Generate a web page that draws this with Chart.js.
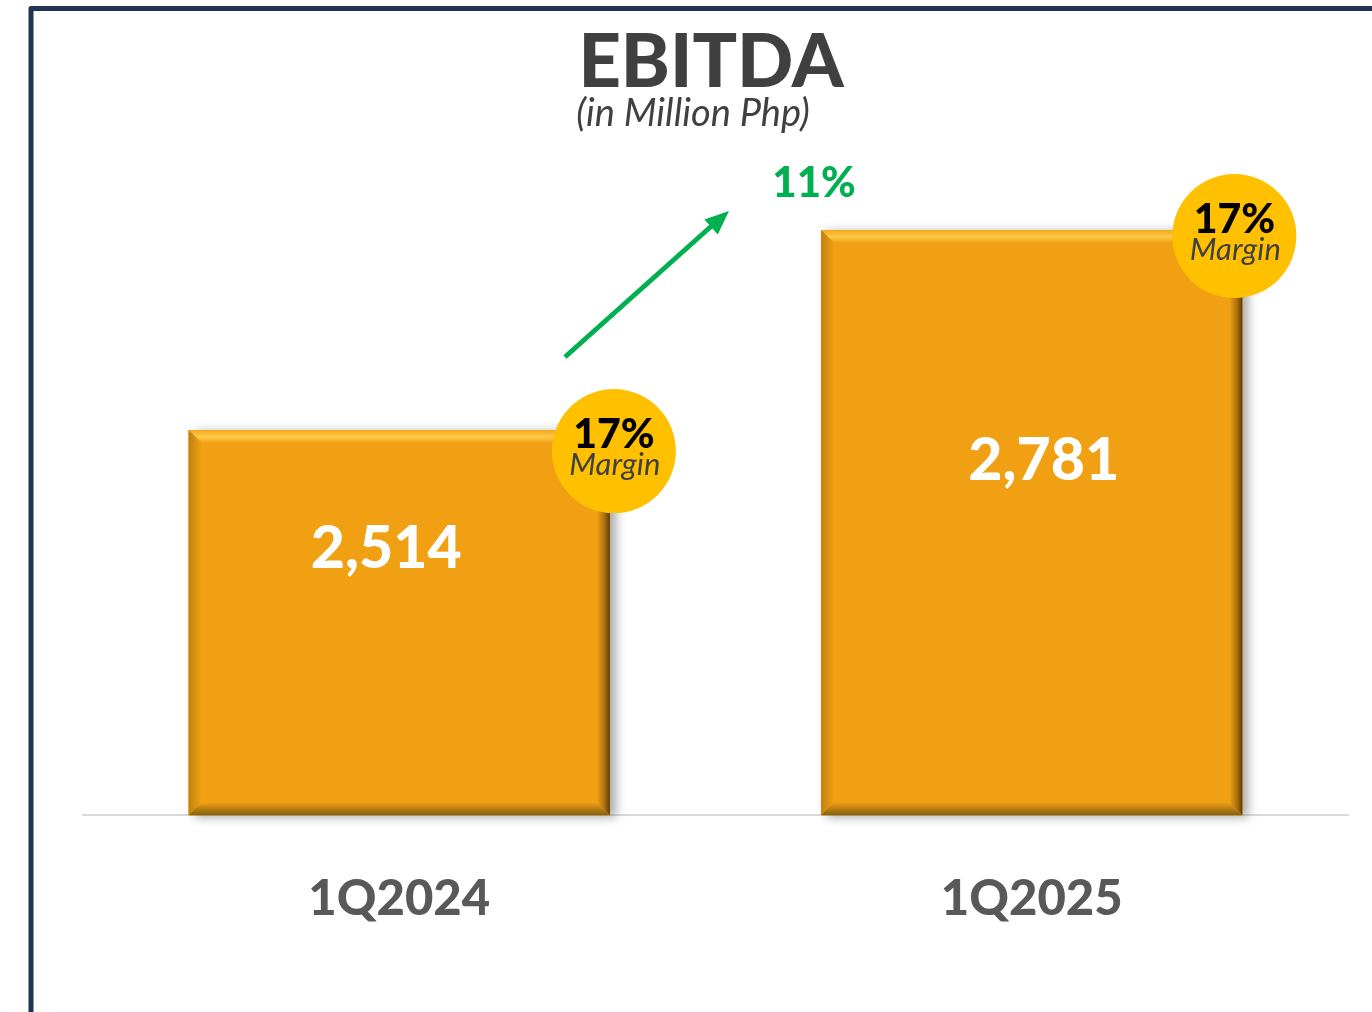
<!DOCTYPE html>
<html>
<head>
<meta charset="utf-8">
<title>EBITDA</title>
<script src="https://cdn.jsdelivr.net/npm/chart.js@4.4.1/dist/chart.umd.min.js"></script>
<style>
  html, body { margin: 0; padding: 0; background: #fff; }
  #wrap { width: 1372px; height: 1012px; position: relative; }
</style>
</head>
<body>
<div id="wrap"><canvas id="ebitdaChart"></canvas></div>
<script>
// data
const quarters = ["1Q2024", "1Q2025"];
const ebitda = [2514, 2781];
const margins = ["17%", "17%"];
const growthText = "11%";
const chartTitle = "EBITDA";
const chartSubtitle = "(in Million Php)";
const axisMin = 2000;
const axisMax = 3000;

const FONT = "Lato, 'Open Sans', sans-serif";
const BAR_COLOR = "#F0A012";
const GREEN = "#00B050";

// where the labels / margin badges sit relative to each bar
const valueShift = [[-13, 119], [12, 231]];
const badgeShift = [[4, 21], [-8, 6]];

const barPolygon = (ctx, pts, fill) => {
  ctx.beginPath();
  ctx.moveTo(pts[0][0], pts[0][1]);
  for (let i = 1; i < pts.length; i++) ctx.lineTo(pts[i][0], pts[i][1]);
  ctx.closePath();
  ctx.fillStyle = fill;
  ctx.fill();
};

const bevelBars = {
  id: "bevelBars",
  beforeDatasetsDraw(chart) {
    const ctx = chart.ctx;
    chart.getDatasetMeta(0).data.forEach(bar => {
      const { x, y, base, width } = bar.getProps(["x", "y", "base", "width"], true);
      ctx.save();
      ctx.shadowColor = "rgba(0,0,0,0.35)";
      ctx.shadowBlur = 10;
      ctx.shadowOffsetX = 6;
      ctx.shadowOffsetY = 2;
      ctx.fillStyle = BAR_COLOR;
      ctx.fillRect(x - width / 2, y, width, base - y);
      ctx.restore();
    });
  },
  afterDatasetsDraw(chart) {
    const ctx = chart.ctx;
    const b = 13;
    chart.getDatasetMeta(0).data.forEach((bar, i) => {
      const { x, y, base, width } = bar.getProps(["x", "y", "base", "width"], true);
      const l = x - width / 2, r = x + width / 2;
      ctx.save();

      let g = ctx.createLinearGradient(0, y, 0, y + b);
      g.addColorStop(0, "#F2A818");
      g.addColorStop(0.5, "#FFCB4A");
      g.addColorStop(1, BAR_COLOR);
      barPolygon(ctx, [[l, y], [r, y], [r - b, y + b], [l + b, y + b]], g);

      g = ctx.createLinearGradient(l, 0, l + b, 0);
      g.addColorStop(0, "#C0810F");
      g.addColorStop(1, BAR_COLOR);
      barPolygon(ctx, [[l, y], [l + b, y + b], [l + b, base - b], [l, base]], g);

      g = ctx.createLinearGradient(r - b, 0, r, 0);
      g.addColorStop(0, BAR_COLOR);
      g.addColorStop(0.6, "#A86F10");
      g.addColorStop(1, "#5A3A06");
      barPolygon(ctx, [[r, y], [r, base], [r - b, base - b], [r - b, y + b]], g);

      g = ctx.createLinearGradient(0, base - b, 0, base);
      g.addColorStop(0, BAR_COLOR);
      g.addColorStop(1, "#86600F");
      barPolygon(ctx, [[l, base], [r, base], [r - b, base - b], [l + b, base - b]], g);

      // value label
      ctx.fillStyle = "#FFFFFF";
      ctx.font = "900 59px " + FONT;
      ctx.textAlign = "center";
      ctx.textBaseline = "middle";
      ctx.fillText(ebitda[i].toLocaleString("en-US"), x + valueShift[i][0], y + valueShift[i][1]);

      // margin badge
      const cx = r + badgeShift[i][0], cy = y + badgeShift[i][1];
      ctx.beginPath();
      ctx.arc(cx, cy, 62, 0, Math.PI * 2);
      ctx.fillStyle = "#FFC000";
      ctx.fill();
      ctx.fillStyle = "#000000";
      ctx.font = "900 41px " + FONT;
      ctx.textBaseline = "alphabetic";
      ctx.fillText(margins[i], cx, cy - 3);
      ctx.fillStyle = "#404040";
      ctx.font = "italic 31px " + FONT;
      ctx.fillText("Margin", cx + 1, cy + 24);
      ctx.restore();
    });
  }
};

const decorations = {
  id: "decorations",
  afterDraw(chart) {
    const ctx = chart.ctx;
    ctx.save();
    // frame
    ctx.strokeStyle = "#1F3552";
    ctx.lineWidth = 5;
    ctx.lineJoin = "round";
    ctx.beginPath();
    ctx.moveTo(31, 1012);
    ctx.lineTo(31, 8.5);
    ctx.lineTo(1372, 8.5);
    ctx.stroke();

    // titles
    ctx.textAlign = "center";
    ctx.textBaseline = "alphabetic";
    ctx.fillStyle = "#404040";
    ctx.font = "900 74px " + FONT;
    ctx.fillText(chartTitle, 711, 87);
    ctx.font = "italic 38px " + FONT;
    ctx.fillText(chartSubtitle, 693, 126);

    // growth arrow
    ctx.strokeStyle = GREEN;
    ctx.fillStyle = GREEN;
    ctx.lineWidth = 5;
    ctx.beginPath();
    ctx.moveTo(565, 357);
    ctx.lineTo(716, 222);
    ctx.stroke();
    const ang = Math.atan2(211 - 357, 729 - 565);
    ctx.beginPath();
    ctx.moveTo(729, 211);
    ctx.lineTo(729 - 24 * Math.cos(ang) + 10 * Math.sin(ang), 211 - 24 * Math.sin(ang) - 10 * Math.cos(ang));
    ctx.lineTo(729 - 24 * Math.cos(ang) - 10 * Math.sin(ang), 211 - 24 * Math.sin(ang) + 10 * Math.cos(ang));
    ctx.closePath();
    ctx.fill();
    ctx.font = "900 42px " + FONT;
    ctx.fillText(growthText, 814, 197);
    ctx.restore();
  }
};

const ctx = document.getElementById("ebitdaChart").getContext("2d");

new Chart(ctx, {
  type: "bar",
  data: {
    labels: quarters,
    datasets: [{
      label: "EBITDA",
      data: ebitda,
      base: axisMin,
      backgroundColor: BAR_COLOR,
      borderWidth: 0,
      categoryPercentage: 1,
      barPercentage: 0.666
    }]
  },
  options: {
    responsive: true,
    maintainAspectRatio: false,
    animation: false,
    layout: {
      padding: { left: 83, right: 24, top: 66, bottom: 28 }
    },
    plugins: {
      legend: { display: false },
      tooltip: { enabled: false }
    },
    scales: {
      x: {
        grid: { display: false, drawTicks: false },
        border: { display: true, color: "#D9D9D9", width: 2 },
        ticks: {
          color: "#595959",
          padding: 55,
          font: { family: FONT, size: 49, weight: "900" }
        }
      },
      y: {
        display: false,
        min: axisMin,
        max: axisMax
      }
    }
  },
  plugins: [bevelBars, decorations]
});
</script>
</body>
</html>
